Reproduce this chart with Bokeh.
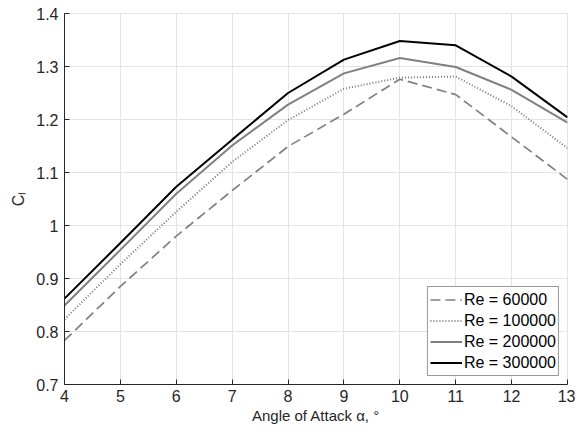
import math
from bokeh.plotting import figure
from bokeh.models import Range1d, FixedTicker, CustomJSTickFormatter, Legend, LegendItem
from bokeh.embed import file_html
from bokeh.resources import INLINE

# ---- data ----
alpha_deg = [4, 5, 6, 7, 8, 9, 10, 11, 12, 13]
cl_re60000 = [0.783, 0.885, 0.980, 1.066, 1.149, 1.210, 1.276, 1.247, 1.167, 1.087]
cl_re100000 = [0.823, 0.927, 1.026, 1.120, 1.199, 1.258, 1.279, 1.281, 1.225, 1.146]
cl_re200000 = [0.849, 0.954, 1.060, 1.151, 1.228, 1.287, 1.316, 1.299, 1.256, 1.194]
cl_re300000 = [0.862, 0.967, 1.073, 1.162, 1.250, 1.313, 1.348, 1.340, 1.281, 1.204]
series_labels = ["Re = 60000", "Re = 100000", "Re = 200000", "Re = 300000"]
x_ticks = [4, 5, 6, 7, 8, 9, 10, 11, 12, 13]
y_ticks = [0.7, 0.8, 0.9, 1.0, 1.1, 1.2, 1.3, 1.4]

FONT = "Liberation Sans"
AX = "#262626"
GRID = "#e3e3e3"

p = figure(width=575, height=426, output_backend="svg", toolbar_location=None,
           x_range=Range1d(4, 13), y_range=Range1d(0.7, 1.4),
           min_border_left=64, min_border_right=8, min_border_top=13, min_border_bottom=42)
p.outline_line_color = GRID
p.background_fill_color = "white"
p.border_fill_color = "white"

p.xaxis.ticker = FixedTicker(ticks=x_ticks)
p.yaxis.ticker = FixedTicker(ticks=y_ticks)
p.yaxis.formatter = CustomJSTickFormatter(code="return String(Math.round(tick*10)/10);")

for ax in (p.xaxis[0], p.yaxis[0]):
    ax.major_tick_in = 5
    ax.major_tick_out = 0
    ax.minor_tick_line_color = None
    ax.axis_line_color = AX
    ax.major_tick_line_color = AX
    ax.major_label_text_color = AX
    ax.major_label_text_font = FONT
    ax.major_label_text_font_size = "16px"
    ax.axis_label_text_font = FONT
    ax.axis_label_text_font_size = "15px"
    ax.axis_label_text_font_style = "normal"
    ax.axis_label_text_color = AX

p.xaxis.major_label_standoff = 5
p.yaxis.major_label_standoff = 6
p.xaxis.axis_label = "Angle of Attack \u03b1, \u00b0"
p.xaxis.axis_label_standoff = 2
p.yaxis.axis_label = "C\u2097"
p.yaxis.axis_label_standoff = 6
p.yaxis.axis_label_text_font_size = "16px"

p.xgrid.grid_line_color = GRID
p.ygrid.grid_line_color = GRID

r1 = p.line(alpha_deg, cl_re60000, line_color="#808080", line_width=1.7, line_dash="10 5")
r2 = p.line(alpha_deg, cl_re100000, line_color="#7a7a7a", line_width=2, line_dash="1 2")
r3 = p.line(alpha_deg, cl_re200000, line_color="#808080", line_width=2)
r4 = p.line(alpha_deg, cl_re300000, line_color="#000000", line_width=2)

legend = Legend(items=[LegendItem(label=series_labels[0], renderers=[r1]),
                       LegendItem(label=series_labels[1], renderers=[r2]),
                       LegendItem(label=series_labels[2], renderers=[r3]),
                       LegendItem(label=series_labels[3], renderers=[r4])],
                location="bottom_right", margin=8, padding=2, spacing=0,
                glyph_width=32, glyph_height=21, label_height=21,
                label_standoff=2, label_text_font=FONT, label_text_font_size="16px",
                label_text_color="#000000",
                border_line_color="#333333", border_line_width=1,
                background_fill_color="white", background_fill_alpha=1)
p.add_layout(legend)

open("out.html", "w").write(file_html(p, INLINE))
